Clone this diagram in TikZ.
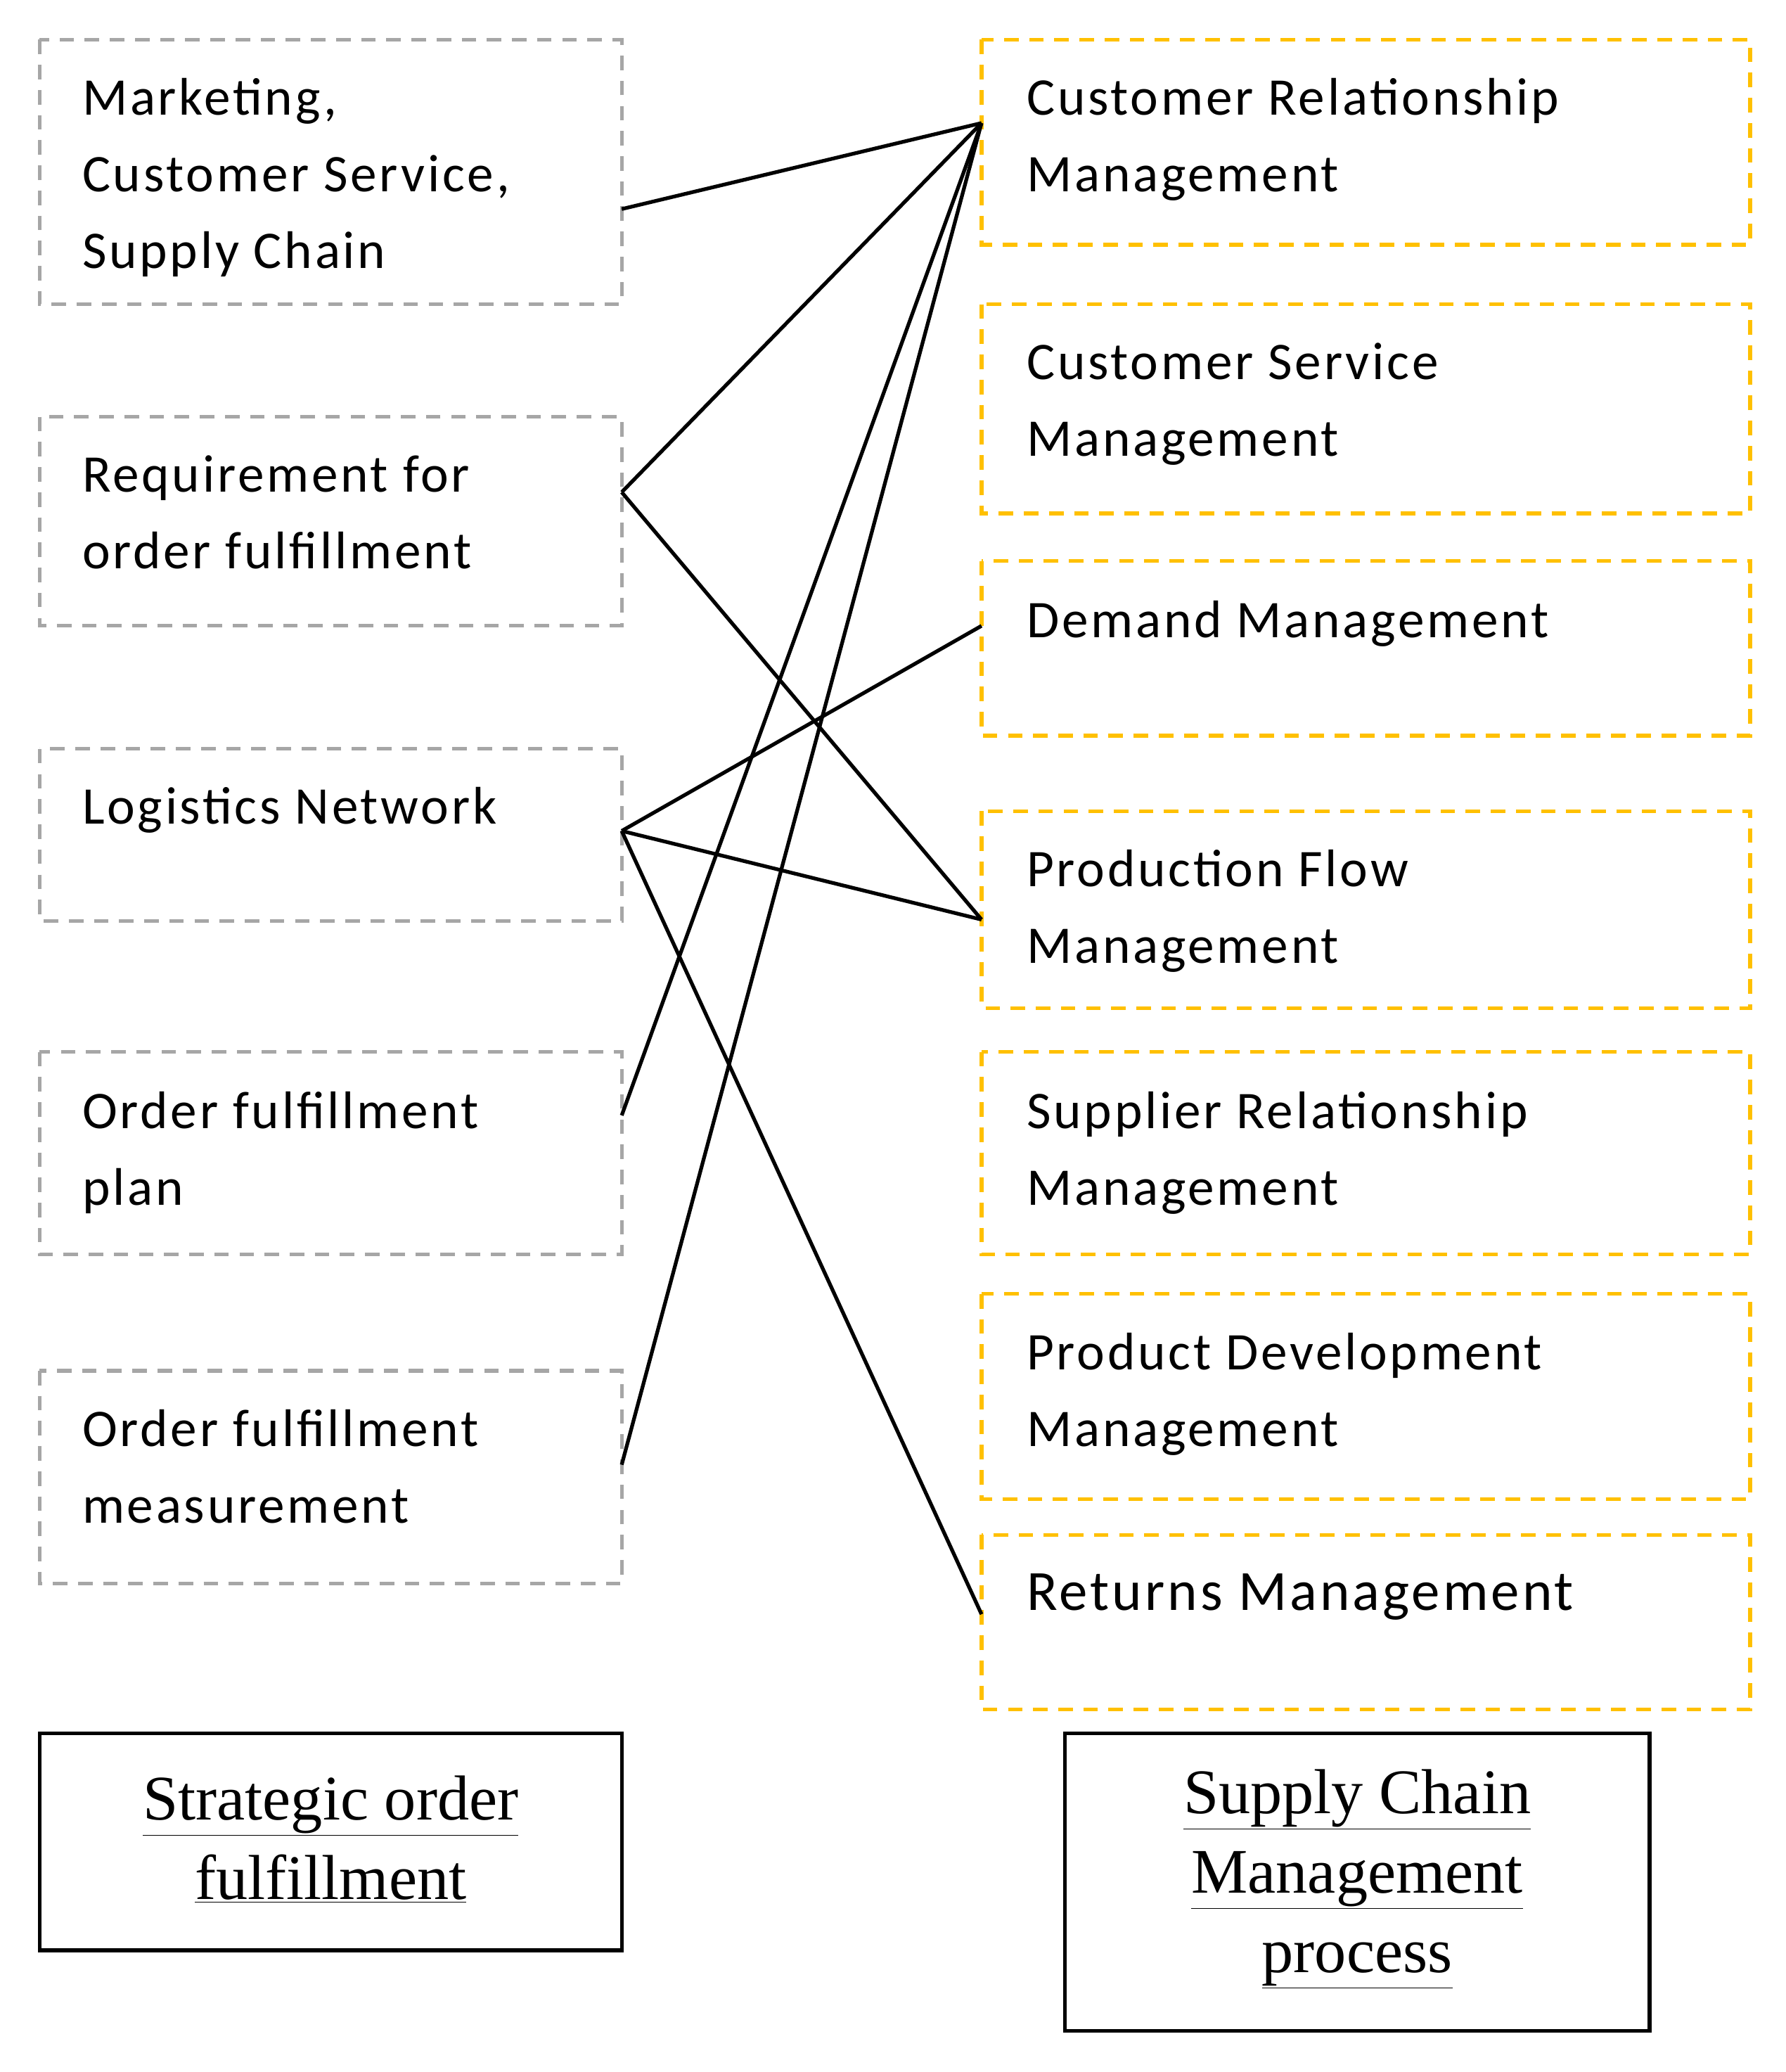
\documentclass[tikz,border=0pt]{standalone}
\usepackage{fontspec}
\setmainfont{Carlito}[LetterSpace=5]
\newfontfamily\serifb{Liberation Serif}
\begin{document}
\begin{tikzpicture}[x=1pt,y=-1pt,
 lb/.style={draw=gray!70,line width=2.8pt,dash pattern=on 11pt off 8pt},
 rb/.style={line width=2.8pt,dash pattern=on 11pt off 8pt},
 bb/.style={draw=black,line width=2.8pt},
 tx/.style={anchor=north west,inner sep=0pt,align=left,font=\fontsize{40}{58}\selectfont},
 btx/.style={inner sep=0pt,align=center,font=\serifb\fontsize{48}{60}\selectfont},
 ln/.style={line width=2.8pt}]
\useasboundingbox (0,0) rectangle (1350,1566);
\definecolor{yel}{HTML}{FFC000}
\tikzset{rb/.append style={draw=yel}}
\newcommand\ul[1]{\underline{#1}}
% left boxes
\draw[lb] (30,30) rectangle (470,230);
\draw[lb] (30,315) rectangle (470,473);
\draw[lb] (30,566) rectangle (470,696);
\draw[lb] (30,795) rectangle (470,948);
\draw[lb] (30,1036) rectangle (470,1197);
\node[tx] (t1) at (62,59) {Marketing,\\Customer Service,\\Supply Chain};
\node[tx] (t2) at (62,344) {Requirement for\\order fulfillment};
\node[tx] (t3) at (62,595) {Logistics Network};
\node[tx] (t4) at (62,825) {Order fulfillment\\plan};
\node[tx] (t5) at (62,1065) {Order fulfillment\\measurement};
% right boxes
\draw[rb] (742,30) rectangle (1323,185);
\draw[rb] (742,230) rectangle (1323,388);
\draw[rb] (742,424) rectangle (1323,556);
\draw[rb] (742,613) rectangle (1323,762);
\draw[rb] (742,795) rectangle (1323,948);
\draw[rb] (742,978) rectangle (1323,1133);
\draw[rb] (742,1160) rectangle (1323,1292);
\node[tx] (r1) at (776,59) {Customer Relationship\\Management};
\node[tx] (r2) at (776,259) {Customer Service\\Management};
\node[tx] (r3) at (776,454) {Demand Management};
\node[tx] (r4) at (776,642) {Production Flow\\Management};
\node[tx] (r5) at (776,825) {Supplier Relationship\\Management};
\node[tx] (r6) at (776,1007) {Product Development\\Management};
\node[tx,font=\fontsize{43}{58}\selectfont] (r7) at (776,1189) {Returns Management};
% bottom boxes
\draw[bb] (30,1310) rectangle (470,1474);
\draw[bb] (805,1310) rectangle (1247,1535);
\node[btx] (b1) at (250,1390) {\ul{Strategic order}\\\ul{fulfillment}};
\node[btx] (b2) at (1026,1420) {\ul{Supply Chain}\\\ul{Management}\\\ul{process}};
% connection points
\coordinate (L1) at (470,158);
\coordinate (L2) at (470,372);
\coordinate (L3) at (470,628);
\coordinate (L4) at (470,843);
\coordinate (L5) at (470,1107);
\coordinate (RA) at (742,93);
\coordinate (RC) at (742,473);
\coordinate (RD) at (742,695);
\coordinate (RG) at (742,1220);
\draw[ln] (L1) -- (RA);
\draw[ln] (L2) -- (RA);
\draw[ln] (L2) -- (RD);
\draw[ln] (L3) -- (RC);
\draw[ln] (L3) -- (RD);
\draw[ln] (L3) -- (RG);
\draw[ln] (L4) -- (RA);
\draw[ln] (L5) -- (RA);
\end{tikzpicture}
\end{document}
